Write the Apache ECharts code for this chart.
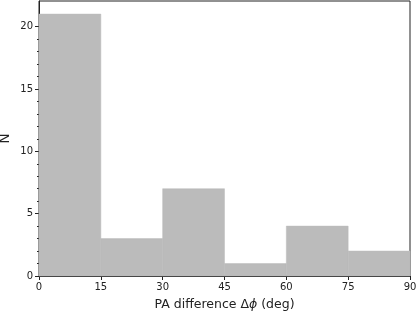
<!DOCTYPE html>
<html><head><meta charset="utf-8">
<script src="https://cdn.jsdelivr.net/npm/echarts@6/dist/echarts.min.js"></script>
<style>html,body{margin:0;padding:0;background:#fff}#c{width:416px;height:313px}</style>
</head><body><div id="c"></div>
<script>
const binStarts = [0, 15, 30, 45, 60, 75];
const binWidth = 15;
const counts = [21, 3, 7, 1, 4, 2];
const xTicks = [0, 15, 30, 45, 60, 75, 90];
const yTicks = [0, 5, 10, 15, 20];
const yMinorTicks = [1, 2, 3, 4, 6, 7, 8, 9, 11, 12, 13, 14, 16, 17, 18, 19];

const data = binStarts.map((s, i) => [s, s + binWidth, counts[i]]);
const chart = echarts.init(document.getElementById('c'), null, {renderer: 'canvas'});
const font = 'DejaVu Sans';
const yMax = 22.05;
chart.setOption({
  animation: false,
  grid: {left: 39, right: 6, top: 1, bottom: 37, outerBoundsMode: 'none', containLabel: false,
    show: true, borderColor: '#222', borderWidth: 1, backgroundColor: 'transparent'},
  xAxis: {
    type: 'value', min: 0, max: 90, interval: 15,
    name: 'PA difference Δ{i|ϕ} (deg)', nameLocation: 'middle', nameGap: 22, nameMoveOverlap: false,
    nameTextStyle: {fontFamily: font, fontSize: 12.5, color: '#222',
      rich: {i: {fontFamily: font, fontSize: 12.5, fontStyle: 'italic', color: '#222'}}},
    axisLine: {show: true, lineStyle: {color: '#222'}},
    axisTick: {show: true, length: 4, inside: false, lineStyle: {color: '#222'}},
    axisLabel: {fontFamily: font, fontSize: 10, color: '#222', margin: 6},
    splitLine: {show: false}
  },
  yAxis: [{
    type: 'value', min: 0, max: yMax, position: 'left',
    name: 'N', nameLocation: 'middle', nameGap: 27, nameRotate: 90, nameMoveOverlap: false,
    nameTextStyle: {fontFamily: font, fontSize: 13.5, color: '#222'},
    axisLine: {show: true, lineStyle: {color: '#222'}},
    axisTick: {show: true, length: 4, customValues: yTicks, lineStyle: {color: '#222'}},
    axisLabel: {fontFamily: font, fontSize: 10, color: '#222', margin: 6, customValues: yTicks},
    splitLine: {show: false}
  }, {
    type: 'value', min: 0, max: yMax, position: 'left', offset: 0,
    axisLine: {show: false},
    axisTick: {show: true, length: 2, customValues: yMinorTicks, lineStyle: {color: '#222'}},
    axisLabel: {show: false},
    splitLine: {show: false}
  }],
  series: [{
    type: 'custom',
    data: data,
    renderItem: function (params, api) {
      const p0 = api.coord([api.value(0), api.value(2)]);
      const p1 = api.coord([api.value(1), 0]);
      return {type: 'rect', shape: {x: p0[0], y: p0[1], width: p1[0] - p0[0], height: p1[1] - p0[1]},
        style: {fill: '#bbbbbb', stroke: '#bbbbbb', lineWidth: 0.5}};
    },
    encode: {x: [0, 1], y: 2}
  }]
});
</script></body></html>
